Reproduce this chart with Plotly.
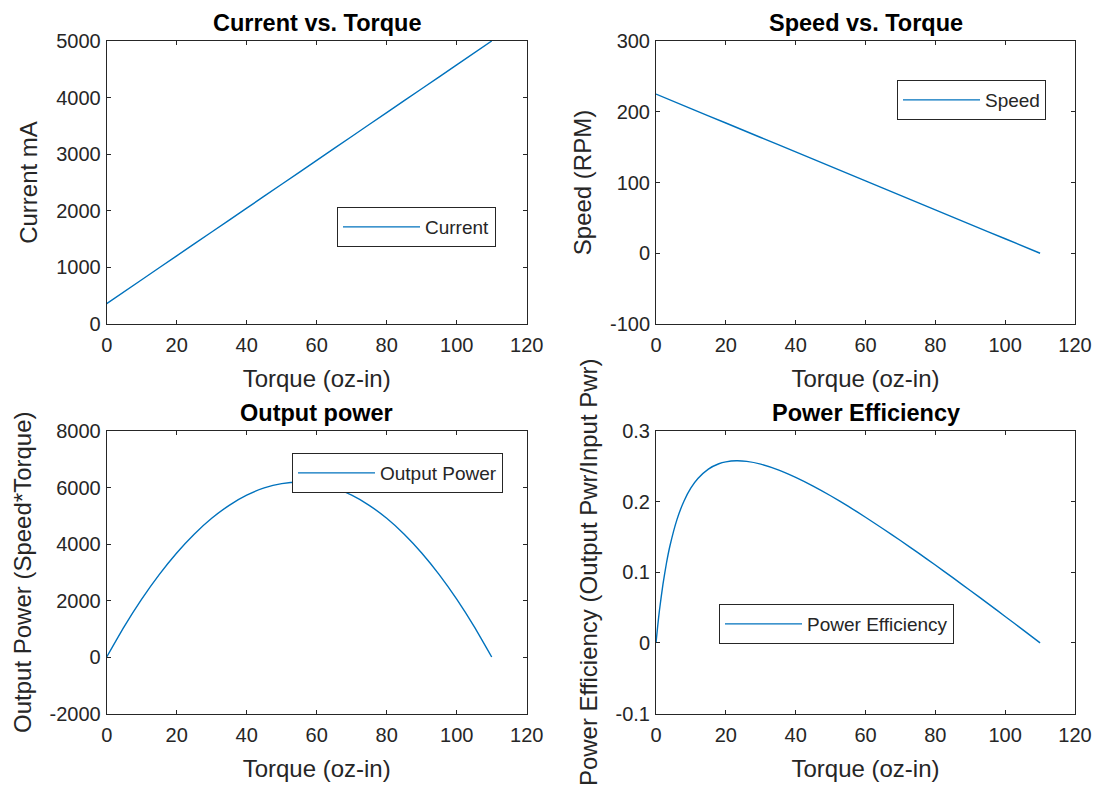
import plotly.graph_objects as go

# ---- data ----
torque_lin = [0, 10, 20, 30, 40, 50, 60, 70, 80, 90, 100, 110]
current_ma = [360, 782, 1204, 1625, 2047, 2469, 2891, 3313, 3735, 4156, 4578, 5000]
speed_rpm = [225, 204.5, 184.1, 163.6, 143.2, 122.7, 102.3, 81.8, 61.4, 40.9, 20.5, 0]

torque_pow = [0, 5, 10, 15, 20, 25, 30, 35, 40, 45, 50, 55, 60, 65, 70, 75, 80, 85, 90, 95, 100, 105, 110]
output_power = [0, 1074, 2045, 2915, 3682, 4347, 4909, 5369, 5727, 5984, 6136, 6188, 6136, 5984,
                5727, 5369, 4909, 4347, 3682, 2915, 2045, 1074, 0]

torque_eff = [0, 0.5, 1, 2, 3, 4, 6, 8, 10, 12, 15, 18, 20, 23, 26, 30, 35, 40, 45, 50, 55, 60,
              65, 70, 75, 80, 85, 90, 95, 100, 105, 110]
efficiency = [0, 0.0246, 0.0465, 0.0833, 0.1131, 0.1375, 0.1745, 0.2006, 0.2193, 0.2327, 0.2461,
              0.2536, 0.2563, 0.2579, 0.2570, 0.2531, 0.2450, 0.2344, 0.2220, 0.2083, 0.1935,
              0.1779, 0.1616, 0.1449, 0.1277, 0.1102, 0.0923, 0.0742, 0.0559, 0.0374, 0.0188, 0]

x_ticks = [0, 20, 40, 60, 80, 100, 120]
y_tick_vals = [
    [0, 1000, 2000, 3000, 4000, 5000],
    [-100, 0, 100, 200, 300],
    [-2000, 0, 2000, 4000, 6000, 8000],
    [-0.1, 0, 0.1, 0.2, 0.3],
]
y_tick_text = [
    ["0", "1000", "2000", "3000", "4000", "5000"],
    ["-100", "0", "100", "200", "300"],
    ["-2000", "0", "2000", "4000", "6000", "8000"],
    ["-0.1", "0", "0.1", "0.2", "0.3"],
]
titles = ["Current vs. Torque", "Speed vs. Torque", "Output power", "Power Efficiency"]
y_titles = ["Current mA", "Speed (RPM)", "Output Power (Speed*Torque)",
            "Power Efficiency (Output Pwr/Input Pwr)"]
x_title = "Torque (oz-in)"
legend_names = ["Current", "Speed", "Output Power", "Power Efficiency"]

# ---- styling ----
W, H = 1094, 789
FONT = "Liberation Sans, Arial, Helvetica, sans-serif"
AX = "#262626"
BLUE = "#0072BD"
TICK_SIZE = 20
LABEL_SIZE = 24
TITLE_SIZE = 23.5
LEGEND_SIZE = 19

fig = go.Figure()
series = [(torque_lin, current_ma), (torque_lin, speed_rpm), (torque_pow, output_power),
          (torque_eff, efficiency)]
for i, (xs, ys) in enumerate(series):
    sfx = "" if i == 0 else str(i + 1)
    fig.add_trace(go.Scatter(
        x=xs, y=ys, mode="lines", name=legend_names[i],
        line=dict(color=BLUE, width=1.4, shape="spline", smoothing=0.5),
        xaxis="x" + sfx, yaxis="y" + sfx, legend="legend" + sfx, showlegend=True,
    ))

# axes pixel boxes in window coordinates (left, right, top, bottom)
boxes = [(106.7, 526.7, 41, 324), (656, 1075, 41, 324),
         (106.7, 526.7, 431, 713.5), (656, 1075, 431, 713.5)]
y_ranges = [[0, 5000], [-100, 300], [-2000, 8000], [-0.1, 0.3]]

layout = dict(
    template="none",
    width=W, height=H, margin=dict(l=0, r=0, t=0, b=0, autoexpand=False),
    paper_bgcolor="white", plot_bgcolor="white",
    font=dict(family=FONT, color=AX), showlegend=True,
)
common = dict(showline=True, linecolor=AX, linewidth=1, mirror="ticks", ticks="inside",
              ticklen=4, tickcolor=AX, showgrid=False, zeroline=False, automargin=False,
              tickfont=dict(family=FONT, size=TICK_SIZE, color=AX))
annotations = []
for i, (l, r, t, b) in enumerate(boxes):
    sfx = "" if i == 0 else str(i + 1)
    layout["xaxis" + sfx] = dict(
        common, domain=[l / W, r / W], anchor="y" + sfx, range=[0, 120],
        tickvals=x_ticks, ticktext=[str(v) for v in x_ticks], ticklabelstandoff=3,
        title=dict(text=x_title, font=dict(size=LABEL_SIZE, color=AX), standoff=15),
    )
    layout["yaxis" + sfx] = dict(
        common, domain=[1 - b / H, 1 - t / H], anchor="x" + sfx, range=y_ranges[i],
        tickvals=y_tick_vals[i], ticktext=y_tick_text[i], ticklabelstandoff=1,
        title=dict(text=y_titles[i], font=dict(size=LABEL_SIZE, color=AX), standoff=11),
    )
    annotations.append(dict(
        text="<b>" + titles[i] + "</b>", xref="x" + sfx + " domain", yref="y" + sfx + " domain",
        x=0.5, y=1, xanchor="center", yanchor="bottom", yshift=3, showarrow=False,
        font=dict(family=FONT, size=TITLE_SIZE, color="black"),
    ))

legend_pos = [(337, 207), (897, 80), (292, 453), (719, 604)]
for i, (lx, ly) in enumerate(legend_pos):
    sfx = "" if i == 0 else str(i + 1)
    layout["legend" + sfx] = dict(
        x=lx / W, y=1 - ly / H, xanchor="left", yanchor="top", xref="paper", yref="paper",
        bgcolor="white", bordercolor=AX, borderwidth=1,
        font=dict(family=FONT, size=LEGEND_SIZE, color=AX), itemwidth=77,
    )
layout["annotations"] = annotations
fig.update_layout(**layout)
fig.write_html("out.html", config={"displayModeBar": False},
               post_script="document.body.style.margin='0';")
